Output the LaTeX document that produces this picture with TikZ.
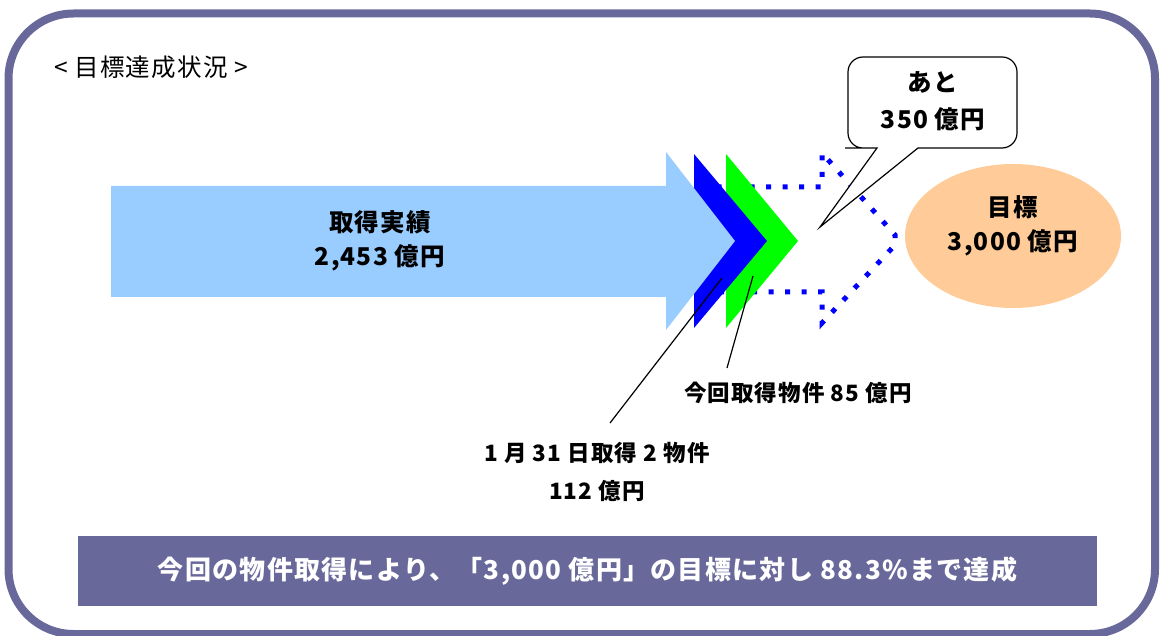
\documentclass[tikz,border=0pt]{standalone}
\usepackage{fontspec}
\newfontfamily\jp{Noto Sans CJK JP}[LetterSpace=5]
\usetikzlibrary{shapes.geometric}
\definecolor{framec}{RGB}{104,104,154}
\definecolor{lightblue}{RGB}{153,204,255}
\definecolor{peach}{RGB}{255,204,153}
\definecolor{pureblue}{RGB}{0,0,255}
\definecolor{puregreen}{RGB}{0,255,0}
\begin{document}
\begin{tikzpicture}[x=1pt,y=-1pt,
  txt/.style={font=\jp\bfseries\fontsize{24.5}{28}\selectfont, align=center, inner sep=0},
  lbl/.style={font=\jp\bfseries\fontsize{22.5}{26}\selectfont, align=center, inner sep=0},
  leader/.style={draw=black, line width=1.2}]
\useasboundingbox (0,0) rectangle (1160,636);
% outer frame
\draw[framec, line width=8, rounded corners=65] (8.5,13.5) rectangle (1155,634);
% title
\node[font=\jp\fontsize{24.5}{28}\selectfont, anchor=west, inner sep=0] (title) at (54,67) {< 目標達成状況 >};
% dotted remaining arrow
\draw[pureblue, line width=5, dash pattern=on 5pt off 11.5pt] (700,187) -- (822,187) -- (822,153) -- (895,235) -- (895,245) -- (822,323) -- (822,292) -- (700,292);
% chevrons
\fill[puregreen] (726,154) -- (798,241) -- (726,328) -- cycle;
\fill[pureblue] (694,154) -- (767,241) -- (694,328) -- cycle;
\fill[lightblue] (111,186) -- (666,186) -- (666,152) -- (735,241) -- (666,330) -- (666,297) -- (111,297) -- cycle;
\node[txt] (ach1) at (380,222) {取得実績};
\node[txt] (ach2) at (380,258) {2,453 億円};
% goal ellipse
\node[ellipse, fill=peach, minimum width=216, minimum height=144, inner sep=0] (goal) at (1013,236) {};
\node[txt] (goal1) at (1013,207) {目標};
\node[txt] (goal2) at (1013,243) {3,000 億円};
% callout
\draw[fill=white, line width=1.2] (877,148) -- (820,227) -- (918,148) -- (930,148) [rounded corners=15] -- (1017,148) -- (1017,57) -- (848,57) -- (848,148) -- (860,148) [sharp corners] -- cycle;
\node[txt] (rem1) at (933,82) {あと};
\node[txt] (rem2) at (933,119) {350 億円};
% leader labels
\node[lbl] (cur) at (798,393) {今回取得物件 85 億円};
\node[lbl] (jan1) at (597,453) {1 月 31 日取得 2 物件};
\node[lbl] (jan2) at (597,491) {112 億円};
\coordinate (blueA) at (722,278);
\coordinate (greenA) at (753,276);
\coordinate (janEnd) at (610,423);
\coordinate (curEnd) at (727,368);
\draw[leader] (blueA) -- (janEnd);
\draw[leader] (greenA) -- (curEnd);
% banner
\node[fill=framec, minimum width=1019, minimum height=70, inner sep=0, text=white, font=\jp\bfseries\fontsize{26}{30}\selectfont] (banner) at (587.5,571) {今回の物件取得により、「3,000 億円」の目標に対し 88.3\%まで達成};
\end{tikzpicture}
\end{document}
